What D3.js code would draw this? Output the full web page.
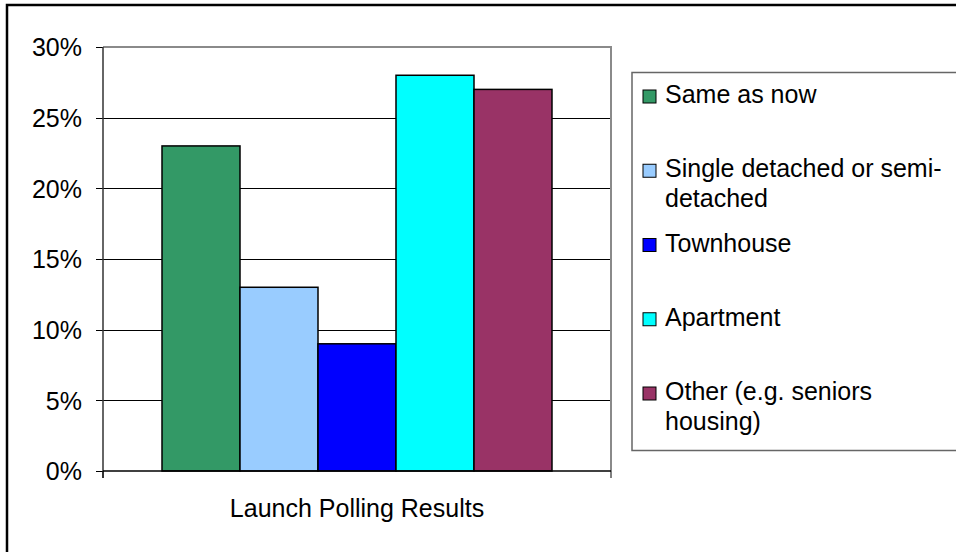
<!DOCTYPE html>
<html>
<head>
<meta charset="utf-8">
<script src="https://cdn.jsdelivr.net/npm/d3@7"></script>
<style>
  html, body { margin: 0; padding: 0; background: #fff; }
  svg { display: block; font-family: "Liberation Sans", Arial, sans-serif; }
</style>
</head>
<body>
<svg id="chart" width="956" height="552"></svg>
<script>
// ---- data ----
const categories = ["Launch Polling Results"];
const seriesNames = ["Same as now", "Single detached or semi-detached", "Townhouse", "Apartment", "Other (e.g. seniors housing)"];
const seriesValues = [0.23, 0.13, 0.09, 0.28, 0.27];
const seriesColors = ["#339966", "#99CCFF", "#0000FF", "#00FFFF", "#993366"];
const legendLines = [["Same as now"], ["Single detached or semi-", "detached"], ["Townhouse"], ["Apartment"], ["Other (e.g. seniors", "housing)"]];
const yTicks = [0, 0.05, 0.10, 0.15, 0.20, 0.25, 0.30];

// ---- layout ----
const svg = d3.select("#chart");
const plot = { left: 103, right: 611, top: 47, bottom: 471 };
const FONT = 25;

// outer frame (extends past canvas right/bottom)
svg.append("rect").attr("x", 7).attr("y", 5).attr("width", 1000).attr("height", 600)
  .attr("fill", "#fff").attr("stroke", "#000").attr("stroke-width", 2.5);

const x0 = d3.scaleBand().domain(categories).range([plot.left, plot.right])
  .paddingInner(0).paddingOuter(0.1513);
const x1 = d3.scaleBand().domain(seriesNames).range([0, x0.bandwidth()]).padding(0);
const y = d3.scaleLinear().domain([0, 0.30]).range([plot.bottom, plot.top]);

// gridlines
const grid = svg.append("g").attr("transform", `translate(${plot.left},0)`)
  .call(d3.axisLeft(y).tickValues(yTicks.slice(1, -1)).tickSize(-(plot.right - plot.left)).tickFormat(""));
grid.select(".domain").remove();
grid.selectAll("line").attr("stroke", "#000").attr("stroke-width", 1).attr("shape-rendering", "crispEdges");

// plot-area border (top + right)
svg.append("path")
  .attr("d", `M${plot.left},${y(0.30)}H${plot.right}V${plot.bottom}`)
  .attr("fill", "none").attr("stroke", "#8a8a8a").attr("stroke-width", 2);

// bars
const g = svg.append("g");
categories.forEach(cat => {
  g.selectAll(null).data(seriesValues).enter().append("rect")
    .attr("x", (d, i) => x0(cat) + x1(seriesNames[i]))
    .attr("y", d => y(d))
    .attr("width", x1.bandwidth())
    .attr("height", d => y(0) - y(d))
    .attr("fill", (d, i) => seriesColors[i])
    .attr("stroke", "#000").attr("stroke-width", 1.5);
});

// y axis
const yAxis = svg.append("g").attr("transform", `translate(${plot.left},0)`)
  .call(d3.axisLeft(y).tickValues(yTicks).tickSize(7).tickPadding(14).tickFormat(d3.format(".0%")));
yAxis.select(".domain").remove();
yAxis.selectAll("line").attr("stroke", "#000").attr("stroke-width", 1).attr("shape-rendering", "crispEdges");
yAxis.selectAll("text").attr("font-size", FONT).attr("fill", "#000").attr("dy", "0.35em")
  .attr("font-family", "'Liberation Sans', Arial, sans-serif");
svg.append("line").attr("x1", plot.left).attr("x2", plot.left).attr("y1", plot.top).attr("y2", plot.bottom + 7)
  .attr("stroke", "#333").attr("stroke-width", 1.5);

// x axis
const xAxis = svg.append("g").attr("transform", `translate(0,${plot.bottom})`)
  .call(d3.axisBottom(x0).tickSize(0).tickPadding(28));
xAxis.select(".domain").attr("d", `M${plot.left},0H${plot.right}`).attr("stroke", "#000").attr("stroke-width", 1.5);
xAxis.selectAll("text").attr("font-size", FONT).attr("fill", "#000")
  .attr("font-family", "'Liberation Sans', Arial, sans-serif");
x0.range().forEach(xv => {
  xAxis.append("line").attr("x1", xv).attr("x2", xv).attr("y1", 0).attr("y2", 7)
    .attr("stroke", "#000").attr("stroke-width", 1);
});

// legend
const leg = svg.append("g");
leg.append("rect").attr("x", 632).attr("y", 72.5).attr("width", 400).attr("height", 378)
  .attr("fill", "#fff").attr("stroke", "#666").attr("stroke-width", 1.5);
seriesNames.forEach((name, i) => {
  const base = 103 + 74.25 * i;
  leg.append("rect").attr("x", 643).attr("y", base - 13).attr("width", 13).attr("height", 13)
    .attr("fill", seriesColors[i]).attr("stroke", "#000").attr("stroke-width", 1);
  const t = leg.append("text").attr("x", 665).attr("y", base).attr("font-size", FONT).attr("fill", "#000");
  legendLines[i].forEach((ln, j) => {
    t.append("tspan").attr("x", 665).attr("y", base + j * 30).text(ln);
  });
});
</script>
</body>
</html>
